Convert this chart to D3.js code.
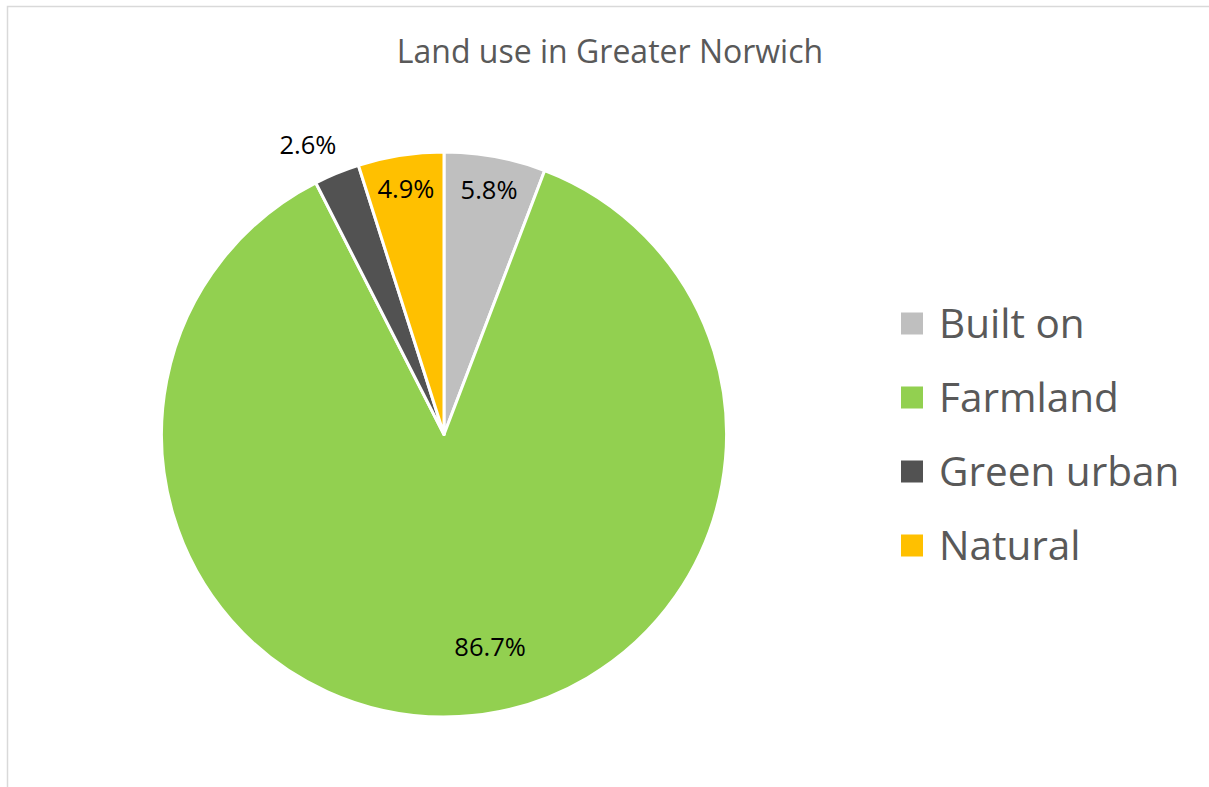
<!DOCTYPE html>
<html>
<head>
<meta charset="utf-8">
<script src="https://cdn.jsdelivr.net/npm/d3@7"></script>
<style>
  html, body { margin: 0; padding: 0; background: #fff; overflow: hidden; }
  svg { display: block; }
</style>
</head>
<body>
<svg id="chart" width="1209" height="787"></svg>
<script>
// Land use shares (percent), clockwise from 12 o'clock
const categories = ["Built on", "Farmland", "Green urban", "Natural"];
const shares = [5.8, 86.7, 2.6, 4.9];
const colors = ["#BFBFBF", "#92D050", "#525252", "#FFC000"];
const chartTitle = "Land use in Greater Norwich";

const W = 1209, H = 787;
const font = "'Open Sans', Lato, sans-serif";
const svg = d3.select("#chart");

// chart frame: only the top and left edges fall inside the view
svg.append("path")
  .attr("d", `M7.5,${H}V6.5H${W}`)
  .attr("fill", "none")
  .attr("stroke", "#D9D9D9")
  .attr("stroke-width", 1.5);

svg.append("text")
  .attr("x", 610).attr("y", 62.5)
  .attr("text-anchor", "middle")
  .attr("font-family", font).attr("font-size", 32)
  .attr("fill", "#595959")
  .text(chartTitle);

const cx = 444, cy = 434.5, R = 282.5;
const data = categories.map((c, i) => ({ name: c, value: shares[i], color: colors[i] }));

const pie = d3.pie().value(d => d.value).sort(null);
const arcs = pie(data);
const arc = d3.arc().innerRadius(0).outerRadius(R);

const g = svg.append("g").attr("transform", `translate(${cx},${cy})`);
g.selectAll("path.slice")
  .data(arcs)
  .join("path")
  .attr("class", "slice")
  .attr("d", arc)
  .attr("fill", d => d.data.color)
  .attr("stroke", "#fff")
  .attr("stroke-width", 3)
  .attr("stroke-linejoin", "round");

// data label placement: inside for most slices, outside for the narrowest
const fmt = d => d.toFixed(1) + "%";
function labelPos(d) {
  const mid = (d.startAngle + d.endAngle) / 2;
  let r = R * 0.88, a = mid;
  if (d.data.value > 50) { r = R * 0.77; a = mid - 0.16; }
  else if (d.data.value < 3) { r = R * 1.132; a = mid - 0.05; }
  return [r * Math.sin(a), -r * Math.cos(a)];
}
g.selectAll("text.lbl")
  .data(arcs)
  .join("text")
  .attr("class", "lbl")
  .attr("transform", d => `translate(${labelPos(d)})`)
  .attr("text-anchor", "middle")
  .attr("dy", "0.36em")
  .attr("font-family", font).attr("font-size", 25.5)
  .attr("fill", "#000")
  .text(d => fmt(d.data.value));

// legend
const legend = svg.append("g").attr("transform", "translate(901,323.5)");
const rowH = 74;
const item = legend.selectAll("g.item")
  .data(data)
  .join("g")
  .attr("class", "item")
  .attr("transform", (d, i) => `translate(0,${i * rowH})`);
item.append("rect")
  .attr("x", 0).attr("y", -11)
  .attr("width", 22).attr("height", 22)
  .attr("fill", d => d.color);
item.append("text")
  .attr("x", 38).attr("y", 14.2)
  .attr("font-family", font).attr("font-size", 40.5)
  .attr("fill", "#595959")
  .text(d => d.name);
</script>
</body>
</html>
